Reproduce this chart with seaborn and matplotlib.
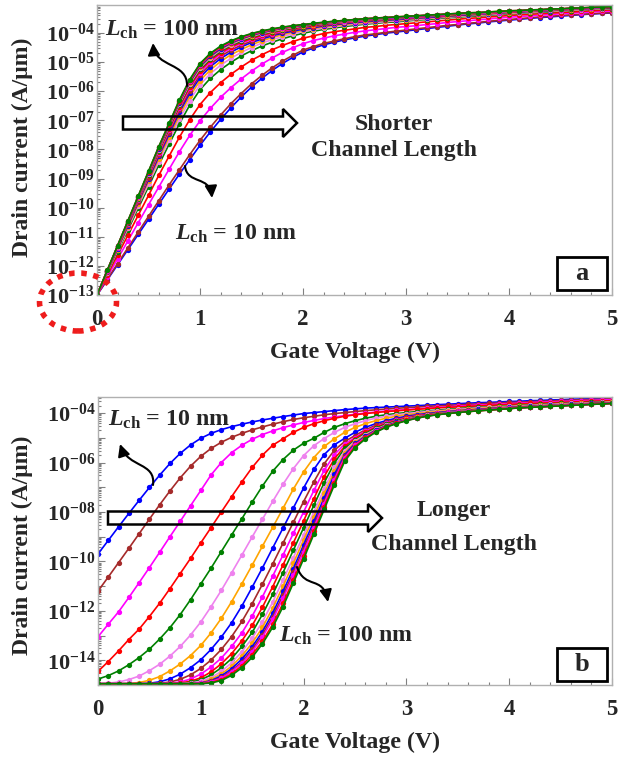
import matplotlib
matplotlib.use("Agg")
import matplotlib.pyplot as plt
import matplotlib.patches as mpatches
from matplotlib.path import Path
from matplotlib.transforms import IdentityTransform
from matplotlib.ticker import FixedLocator, FixedFormatter, LogLocator, NullFormatter, MultipleLocator
import numpy as np
import seaborn as sns

W, H = 632, 757

# gate sweep 0 ... 5 V in 0.1 V steps
gate_v = np.linspace(0.0, 5.0, 51)
lch_nm = [10, 15, 20, 25, 30, 35, 40, 45, 50, 55, 60, 65, 70, 75, 80, 85, 90, 95, 100]
line_colors = ["#0000ff", "#a52a2a", "#ff00ff", "#ff0000", "#008000", "#ee82ee", "#ffa500"]

# ---- panel a: log10 drain current (A/um) ----
a_10 = [-13.0, -12.48, -11.96, -11.44, -10.92, -10.4, -9.88, -9.36, -8.85, -8.35, -7.86,
        -7.4, -6.97, -6.57, -6.2, -5.86, -5.56, -5.29, -5.05, -4.84, -4.65,
        -4.52, -4.41, -4.32, -4.24, -4.17, -4.11, -4.06, -4.01, -3.97, -3.93,
        -3.89, -3.85, -3.81, -3.77, -3.73, -3.69, -3.66, -3.62, -3.59, -3.56,
        -3.53, -3.5, -3.47, -3.45, -3.42, -3.4, -3.37, -3.35, -3.33, -3.31]
a_15 = [-13.0, -12.46, -11.92, -11.38, -10.84, -10.3, -9.76, -9.22, -8.7, -8.18, -7.69,
        -7.24, -6.82, -6.43, -6.08, -5.75, -5.46, -5.2, -4.97, -4.77, -4.59,
        -4.47, -4.36, -4.28, -4.2, -4.13, -4.07, -4.03, -3.98, -3.94, -3.9,
        -3.86, -3.82, -3.78, -3.74, -3.71, -3.67, -3.64, -3.6, -3.57, -3.54,
        -3.51, -3.48, -3.45, -3.43, -3.4, -3.38, -3.36, -3.34, -3.32, -3.3]
a_20 = [-13.0, -12.38, -11.76, -11.14, -10.52, -9.9, -9.29, -8.68, -8.08, -7.52, -7.02,
        -6.59, -6.21, -5.88, -5.58, -5.31, -5.07, -4.86, -4.67, -4.51, -4.37,
        -4.26, -4.18, -4.1, -4.04, -3.98, -3.93, -3.89, -3.85, -3.81, -3.78,
        -3.75, -3.71, -3.68, -3.64, -3.61, -3.58, -3.55, -3.52, -3.49, -3.46,
        -3.44, -3.41, -3.39, -3.37, -3.34, -3.32, -3.3, -3.28, -3.26, -3.25]
a_25 = [-13.0, -12.31, -11.63, -10.95, -10.26, -9.58, -8.89, -8.23, -7.58, -6.98, -6.46,
        -6.05, -5.71, -5.42, -5.17, -4.94, -4.75, -4.58, -4.43, -4.3, -4.18,
        -4.1, -4.02, -3.96, -3.91, -3.86, -3.81, -3.78, -3.74, -3.71, -3.68,
        -3.65, -3.62, -3.59, -3.56, -3.53, -3.5, -3.48, -3.45, -3.43, -3.4,
        -3.38, -3.36, -3.34, -3.32, -3.3, -3.28, -3.26, -3.24, -3.22, -3.21]
a_30 = [-13.0, -12.26, -11.51, -10.77, -10.02, -9.28, -8.53, -7.82, -7.12, -6.48, -5.95,
        -5.56, -5.26, -5.01, -4.79, -4.61, -4.45, -4.32, -4.2, -4.1, -4.01,
        -3.94, -3.88, -3.83, -3.78, -3.74, -3.7, -3.67, -3.64, -3.62, -3.59,
        -3.56, -3.54, -3.51, -3.48, -3.46, -3.43, -3.42, -3.39, -3.37, -3.34,
        -3.33, -3.3, -3.29, -3.27, -3.25, -3.23, -3.21, -3.19, -3.18, -3.17]
a_35 = [-13.0, -12.24, -11.47, -10.71, -9.94, -9.18, -8.42, -7.69, -6.96, -6.32, -5.78,
        -5.4, -5.11, -4.87, -4.67, -4.5, -4.35, -4.23, -4.13, -4.03, -3.95,
        -3.89, -3.83, -3.79, -3.74, -3.7, -3.67, -3.64, -3.61, -3.59, -3.56,
        -3.54, -3.51, -3.48, -3.46, -3.43, -3.41, -3.39, -3.37, -3.35, -3.32,
        -3.31, -3.29, -3.27, -3.25, -3.24, -3.22, -3.2, -3.18, -3.17, -3.16]
a_40 = [-13.0, -12.22, -11.44, -10.66, -9.88, -9.1, -8.32, -7.58, -6.84, -6.18, -5.64,
        -5.27, -4.98, -4.75, -4.57, -4.41, -4.27, -4.16, -4.06, -3.98, -3.91,
        -3.85, -3.79, -3.75, -3.71, -3.67, -3.64, -3.61, -3.58, -3.56, -3.54,
        -3.51, -3.49, -3.46, -3.44, -3.41, -3.39, -3.38, -3.35, -3.33, -3.31,
        -3.29, -3.27, -3.26, -3.24, -3.22, -3.2, -3.19, -3.17, -3.16, -3.14]
a_45 = [-13.0, -12.21, -11.41, -10.62, -9.82, -9.03, -8.24, -7.48, -6.73, -6.07, -5.53,
        -5.16, -4.88, -4.66, -4.48, -4.33, -4.21, -4.1, -4.01, -3.94, -3.87,
        -3.82, -3.76, -3.72, -3.68, -3.65, -3.61, -3.59, -3.56, -3.54, -3.52,
        -3.49, -3.47, -3.45, -3.42, -3.4, -3.38, -3.36, -3.34, -3.32, -3.29,
        -3.28, -3.26, -3.25, -3.23, -3.21, -3.19, -3.18, -3.16, -3.15, -3.14]
a_50 = [-13.0, -12.2, -11.39, -10.59, -9.79, -8.98, -8.18, -7.42, -6.66, -5.99, -5.44,
        -5.08, -4.8, -4.59, -4.42, -4.28, -4.16, -4.06, -3.98, -3.9, -3.84,
        -3.79, -3.74, -3.7, -3.66, -3.63, -3.59, -3.57, -3.55, -3.52, -3.5,
        -3.48, -3.45, -3.43, -3.41, -3.39, -3.36, -3.35, -3.33, -3.31, -3.29,
        -3.27, -3.25, -3.24, -3.22, -3.21, -3.19, -3.17, -3.15, -3.14, -3.13]
a_55 = [-13.0, -12.19, -11.37, -10.56, -9.75, -8.93, -8.12, -7.35, -6.58, -5.9, -5.36,
        -5.0, -4.73, -4.52, -4.36, -4.22, -4.11, -4.02, -3.94, -3.87, -3.81,
        -3.76, -3.72, -3.68, -3.64, -3.61, -3.58, -3.55, -3.53, -3.51, -3.49,
        -3.46, -3.44, -3.42, -3.4, -3.37, -3.35, -3.34, -3.32, -3.3, -3.28,
        -3.26, -3.24, -3.23, -3.21, -3.2, -3.18, -3.17, -3.15, -3.13, -3.12]
a_60 = [-13.0, -12.18, -11.36, -10.54, -9.72, -8.9, -8.08, -7.3, -6.53, -5.85, -5.3,
        -4.94, -4.68, -4.48, -4.32, -4.19, -4.08, -3.99, -3.91, -3.85, -3.8,
        -3.75, -3.7, -3.67, -3.63, -3.6, -3.56, -3.54, -3.52, -3.5, -3.48,
        -3.45, -3.43, -3.41, -3.39, -3.37, -3.34, -3.33, -3.31, -3.29, -3.27,
        -3.26, -3.24, -3.22, -3.2, -3.19, -3.17, -3.16, -3.14, -3.13, -3.12]
a_65 = [-13.0, -12.17, -11.35, -10.52, -9.69, -8.87, -8.04, -7.26, -6.48, -5.79, -5.25,
        -4.89, -4.63, -4.43, -4.28, -4.15, -4.04, -3.96, -3.89, -3.83, -3.78,
        -3.73, -3.69, -3.65, -3.62, -3.58, -3.55, -3.53, -3.51, -3.49, -3.47,
        -3.44, -3.42, -3.4, -3.38, -3.36, -3.34, -3.33, -3.3, -3.28, -3.26,
        -3.25, -3.23, -3.22, -3.2, -3.19, -3.17, -3.16, -3.14, -3.13, -3.12]
a_70 = [-13.0, -12.17, -11.34, -10.5, -9.67, -8.84, -8.01, -7.22, -6.44, -5.75, -5.21,
        -4.85, -4.59, -4.4, -4.24, -4.12, -4.02, -3.94, -3.87, -3.81, -3.76,
        -3.72, -3.67, -3.64, -3.61, -3.58, -3.54, -3.52, -3.5, -3.48, -3.46,
        -3.44, -3.42, -3.39, -3.37, -3.35, -3.33, -3.32, -3.3, -3.28, -3.26,
        -3.25, -3.23, -3.22, -3.2, -3.18, -3.16, -3.15, -3.13, -3.12, -3.11]
a_75 = [-13.0, -12.17, -11.33, -10.5, -9.66, -8.82, -7.99, -7.2, -6.42, -5.72, -5.18,
        -4.82, -4.56, -4.37, -4.22, -4.1, -4.0, -3.92, -3.86, -3.8, -3.75,
        -3.71, -3.67, -3.63, -3.6, -3.57, -3.54, -3.52, -3.49, -3.47, -3.45,
        -3.43, -3.41, -3.39, -3.37, -3.35, -3.33, -3.32, -3.3, -3.28, -3.25,
        -3.24, -3.22, -3.21, -3.19, -3.18, -3.16, -3.15, -3.13, -3.12, -3.11]
a_80 = [-13.0, -12.16, -11.32, -10.49, -9.65, -8.81, -7.97, -7.18, -6.39, -5.7, -5.15,
        -4.8, -4.54, -4.35, -4.2, -4.08, -3.99, -3.91, -3.84, -3.79, -3.74,
        -3.7, -3.66, -3.63, -3.59, -3.56, -3.53, -3.51, -3.49, -3.47, -3.45,
        -3.43, -3.41, -3.39, -3.36, -3.34, -3.32, -3.31, -3.29, -3.27, -3.25,
        -3.24, -3.22, -3.21, -3.19, -3.18, -3.16, -3.15, -3.13, -3.12, -3.11]
a_85 = [-13.0, -12.16, -11.32, -10.48, -9.63, -8.79, -7.95, -7.16, -6.36, -5.67, -5.12,
        -4.77, -4.51, -4.33, -4.18, -4.07, -3.97, -3.9, -3.83, -3.78, -3.73,
        -3.69, -3.65, -3.62, -3.59, -3.56, -3.53, -3.5, -3.48, -3.46, -3.44,
        -3.42, -3.4, -3.38, -3.36, -3.34, -3.32, -3.31, -3.29, -3.27, -3.25,
        -3.24, -3.22, -3.21, -3.19, -3.18, -3.16, -3.15, -3.13, -3.12, -3.11]
a_90 = [-13.0, -12.16, -11.31, -10.47, -9.62, -8.78, -7.93, -7.13, -6.34, -5.64, -5.09,
        -4.74, -4.49, -4.31, -4.16, -4.05, -3.95, -3.88, -3.82, -3.77, -3.72,
        -3.68, -3.64, -3.61, -3.58, -3.55, -3.52, -3.5, -3.48, -3.46, -3.44,
        -3.42, -3.4, -3.38, -3.36, -3.34, -3.32, -3.31, -3.29, -3.27, -3.25,
        -3.24, -3.22, -3.21, -3.19, -3.18, -3.16, -3.15, -3.13, -3.12, -3.11]
a_95 = [-13.0, -12.15, -11.3, -10.46, -9.61, -8.76, -7.91, -7.12, -6.32, -5.62, -5.07,
        -4.72, -4.47, -4.29, -4.14, -4.03, -3.94, -3.87, -3.81, -3.76, -3.72,
        -3.68, -3.64, -3.6, -3.57, -3.54, -3.51, -3.49, -3.47, -3.45, -3.43,
        -3.41, -3.39, -3.37, -3.35, -3.33, -3.31, -3.3, -3.28, -3.26, -3.24,
        -3.23, -3.21, -3.2, -3.18, -3.17, -3.15, -3.14, -3.12, -3.11, -3.1]
a_100 = [-13.0, -12.15, -11.3, -10.45, -9.6, -8.75, -7.9, -7.1, -6.3, -5.6, -5.05,
         -4.7, -4.45, -4.27, -4.13, -4.02, -3.93, -3.86, -3.8, -3.75, -3.71,
         -3.67, -3.63, -3.6, -3.57, -3.54, -3.51, -3.49, -3.47, -3.45, -3.43,
         -3.41, -3.39, -3.37, -3.35, -3.33, -3.31, -3.3, -3.28, -3.26, -3.24,
         -3.23, -3.21, -3.2, -3.18, -3.17, -3.15, -3.14, -3.12, -3.11, -3.1]

# ---- panel b: log10 drain current (A/um) ----
b_10 = [-9.7, -9.15, -8.6, -8.06, -7.53, -7.01, -6.51, -6.04, -5.63, -5.29, -5.02,
        -4.82, -4.67, -4.55, -4.45, -4.36, -4.28, -4.21, -4.14, -4.08, -4.02,
        -3.98, -3.94, -3.9, -3.86, -3.83, -3.8, -3.78, -3.76, -3.74, -3.72,
        -3.7, -3.68, -3.66, -3.64, -3.62, -3.6, -3.58, -3.57, -3.55, -3.53,
        -3.52, -3.5, -3.49, -3.47, -3.46, -3.44, -3.43, -3.42, -3.4, -3.39]
b_15 = [-11.2, -10.63, -10.05, -9.47, -8.88, -8.29, -7.71, -7.15, -6.62, -6.15, -5.75,
        -5.43, -5.18, -4.98, -4.82, -4.68, -4.56, -4.45, -4.35, -4.26, -4.19,
        -4.13, -4.07, -4.02, -3.98, -3.94, -3.9, -3.87, -3.84, -3.81, -3.78,
        -3.76, -3.73, -3.71, -3.69, -3.67, -3.65, -3.63, -3.61, -3.59, -3.57,
        -3.56, -3.54, -3.52, -3.51, -3.49, -3.48, -3.46, -3.45, -3.44, -3.42]
b_20 = [-13.05, -12.54, -12.04, -11.46, -10.86, -10.25, -9.63, -9.0, -8.38, -7.75, -7.13,
        -6.5, -6.0, -5.6, -5.3, -5.06, -4.87, -4.72, -4.59, -4.48, -4.38,
        -4.3, -4.22, -4.16, -4.1, -4.05, -4.0, -3.96, -3.92, -3.89, -3.86,
        -3.83, -3.8, -3.77, -3.75, -3.72, -3.7, -3.68, -3.66, -3.64, -3.62,
        -3.6, -3.58, -3.56, -3.55, -3.53, -3.52, -3.5, -3.49, -3.47, -3.46]
b_25 = [-14.45, -14.05, -13.62, -13.16, -12.74, -12.23, -11.69, -11.1, -10.49, -9.88, -9.25,
        -8.63, -8.0, -7.38, -6.78, -6.2, -5.7, -5.3, -5.04, -4.78, -4.58,
        -4.43, -4.31, -4.21, -4.13, -4.07, -4.02, -3.98, -3.94, -3.91, -3.88,
        -3.85, -3.82, -3.79, -3.77, -3.75, -3.73, -3.71, -3.69, -3.67, -3.65,
        -3.63, -3.61, -3.6, -3.58, -3.57, -3.55, -3.54, -3.52, -3.51, -3.5]
b_30 = [-14.76, -14.62, -14.43, -14.18, -13.89, -13.55, -13.14, -12.68, -12.15, -11.55, -10.91,
        -10.27, -9.6, -8.93, -8.27, -7.6, -6.95, -6.35, -5.88, -5.5, -5.22,
        -5.02, -4.78, -4.58, -4.43, -4.31, -4.21, -4.13, -4.07, -4.02, -3.98,
        -3.94, -3.91, -3.88, -3.85, -3.82, -3.79, -3.77, -3.75, -3.73, -3.71,
        -3.69, -3.67, -3.65, -3.63, -3.61, -3.6, -3.58, -3.57, -3.55, -3.54]
b_35 = [-14.95, -14.93, -14.88, -14.78, -14.64, -14.42, -14.16, -13.83, -13.44, -12.98, -12.45,
        -11.83, -11.17, -10.46, -9.74, -9.01, -8.29, -7.57, -6.88, -6.25, -5.72,
        -5.32, -5.03, -4.78, -4.58, -4.43, -4.31, -4.21, -4.13, -4.07, -4.02,
        -3.98, -3.94, -3.91, -3.88, -3.85, -3.82, -3.79, -3.77, -3.75, -3.73,
        -3.71, -3.69, -3.67, -3.65, -3.63, -3.61, -3.6, -3.58, -3.57, -3.55]
b_40 = [-14.95, -14.95, -14.95, -14.94, -14.9, -14.81, -14.66, -14.43, -14.15, -13.81, -13.4,
        -12.89, -12.3, -11.63, -10.9, -10.15, -9.38, -8.62, -7.85, -7.08, -6.38,
        -5.8, -5.35, -5.04, -4.78, -4.58, -4.43, -4.31, -4.21, -4.13, -4.07,
        -4.02, -3.98, -3.94, -3.91, -3.88, -3.85, -3.82, -3.79, -3.77, -3.75,
        -3.73, -3.71, -3.69, -3.67, -3.65, -3.63, -3.61, -3.6, -3.58, -3.57]
b_45 = [-14.95, -14.95, -14.95, -14.95, -14.95, -14.93, -14.87, -14.75, -14.56, -14.3, -13.98,
        -13.56, -13.06, -12.48, -11.8, -11.04, -10.26, -9.45, -8.65, -7.84, -7.03,
        -6.28, -5.68, -5.28, -5.02, -4.78, -4.58, -4.43, -4.31, -4.21, -4.13,
        -4.07, -4.02, -3.98, -3.94, -3.91, -3.88, -3.85, -3.82, -3.79, -3.77,
        -3.75, -3.73, -3.71, -3.69, -3.67, -3.65, -3.63, -3.61, -3.6, -3.58]
b_50 = [-14.95, -14.95, -14.95, -14.95, -14.95, -14.95, -14.93, -14.88, -14.77, -14.59, -14.33,
        -13.99, -13.56, -13.04, -12.43, -11.71, -10.92, -10.1, -9.26, -8.42, -7.58,
        -6.78, -6.05, -5.5, -5.15, -4.91, -4.68, -4.5, -4.37, -4.26, -4.17,
        -4.1, -4.05, -4.0, -3.96, -3.92, -3.89, -3.86, -3.83, -3.8, -3.78,
        -3.76, -3.74, -3.72, -3.7, -3.68, -3.66, -3.64, -3.62, -3.6, -3.59]
b_55 = [-14.95, -14.95, -14.95, -14.95, -14.95, -14.95, -14.95, -14.93, -14.88, -14.76, -14.56,
        -14.27, -13.91, -13.44, -12.89, -12.21, -11.43, -10.59, -9.74, -8.87, -8.0,
        -7.13, -6.32, -5.68, -5.25, -4.99, -4.74, -4.55, -4.41, -4.29, -4.19,
        -4.12, -4.06, -4.01, -3.97, -3.93, -3.9, -3.87, -3.84, -3.81, -3.79,
        -3.76, -3.74, -3.72, -3.7, -3.68, -3.66, -3.64, -3.63, -3.61, -3.59]
b_60 = [-14.95, -14.95, -14.95, -14.95, -14.95, -14.95, -14.95, -14.95, -14.92, -14.85, -14.71,
        -14.47, -14.14, -13.73, -13.21, -12.59, -11.85, -11.02, -10.14, -9.25, -8.36,
        -7.46, -6.57, -5.85, -5.35, -5.03, -4.78, -4.58, -4.43, -4.31, -4.21,
        -4.13, -4.07, -4.02, -3.98, -3.94, -3.91, -3.88, -3.85, -3.82, -3.79,
        -3.77, -3.75, -3.73, -3.71, -3.69, -3.67, -3.65, -3.63, -3.61, -3.6]
b_65 = [-14.95, -14.95, -14.95, -14.95, -14.95, -14.95, -14.95, -14.95, -14.94, -14.89, -14.79,
        -14.59, -14.3, -13.93, -13.44, -12.87, -12.14, -11.33, -10.45, -9.55, -8.64,
        -7.73, -6.82, -6.02, -5.42, -5.1, -4.83, -4.62, -4.46, -4.33, -4.23,
        -4.15, -4.08, -4.03, -3.98, -3.95, -3.91, -3.88, -3.85, -3.83, -3.8,
        -3.77, -3.75, -3.73, -3.71, -3.69, -3.67, -3.65, -3.63, -3.61, -3.6]
b_70 = [-14.95, -14.95, -14.95, -14.95, -14.95, -14.95, -14.95, -14.95, -14.95, -14.92, -14.85,
        -14.7, -14.45, -14.1, -13.65, -13.11, -12.44, -11.64, -10.76, -9.85, -8.93,
        -8.0, -7.07, -6.2, -5.52, -5.13, -4.87, -4.66, -4.49, -4.36, -4.25,
        -4.16, -4.09, -4.04, -3.99, -3.95, -3.92, -3.89, -3.86, -3.83, -3.8,
        -3.78, -3.76, -3.73, -3.71, -3.69, -3.67, -3.65, -3.63, -3.62, -3.6]
b_75 = [-14.95, -14.95, -14.95, -14.95, -14.95, -14.95, -14.95, -14.95, -14.95, -14.94, -14.9,
        -14.77, -14.55, -14.24, -13.82, -13.3, -12.67, -11.88, -11.0, -10.08, -9.13,
        -8.19, -7.25, -6.35, -5.6, -5.18, -4.91, -4.68, -4.51, -4.37, -4.26,
        -4.17, -4.1, -4.04, -4.0, -3.96, -3.92, -3.89, -3.86, -3.83, -3.81,
        -3.78, -3.76, -3.74, -3.72, -3.7, -3.68, -3.66, -3.64, -3.62, -3.6]
b_80 = [-14.95, -14.95, -14.95, -14.95, -14.95, -14.95, -14.95, -14.95, -14.95, -14.95, -14.92,
        -14.82, -14.63, -14.34, -13.95, -13.45, -12.84, -12.08, -11.21, -10.29, -9.33,
        -8.38, -7.43, -6.48, -5.68, -5.23, -4.94, -4.7, -4.52, -4.38, -4.27,
        -4.18, -4.1, -4.05, -4.0, -3.96, -3.93, -3.89, -3.86, -3.84, -3.81,
        -3.78, -3.76, -3.74, -3.72, -3.7, -3.68, -3.66, -3.64, -3.62, -3.6]
b_85 = [-14.95, -14.95, -14.95, -14.95, -14.95, -14.95, -14.95, -14.95, -14.95, -14.95, -14.92,
        -14.85, -14.69, -14.42, -14.07, -13.56, -12.96, -12.23, -11.37, -10.44, -9.49,
        -8.53, -7.57, -6.61, -5.75, -5.27, -4.97, -4.72, -4.54, -4.4, -4.28,
        -4.19, -4.11, -4.05, -4.01, -3.97, -3.93, -3.9, -3.87, -3.84, -3.81,
        -3.78, -3.76, -3.74, -3.72, -3.7, -3.68, -3.66, -3.64, -3.62, -3.6]
b_90 = [-14.95, -14.95, -14.95, -14.95, -14.95, -14.95, -14.95, -14.95, -14.95, -14.95, -14.93,
        -14.87, -14.73, -14.46, -14.13, -13.65, -13.06, -12.34, -11.49, -10.56, -9.6,
        -8.63, -7.66, -6.69, -5.8, -5.3, -4.99, -4.74, -4.55, -4.41, -4.29,
        -4.19, -4.12, -4.06, -4.01, -3.97, -3.93, -3.9, -3.87, -3.84, -3.81,
        -3.79, -3.76, -3.74, -3.72, -3.7, -3.68, -3.66, -3.64, -3.62, -3.6]
b_95 = [-14.95, -14.95, -14.95, -14.95, -14.95, -14.95, -14.95, -14.95, -14.95, -14.95, -14.95,
        -14.9, -14.78, -14.55, -14.22, -13.77, -13.23, -12.54, -11.7, -10.75, -9.78,
        -8.79, -7.8, -6.81, -5.88, -5.36, -5.02, -4.76, -4.56, -4.42, -4.3,
        -4.2, -4.12, -4.06, -4.02, -3.98, -3.94, -3.91, -3.88, -3.85, -3.82,
        -3.79, -3.77, -3.75, -3.73, -3.71, -3.69, -3.67, -3.65, -3.63, -3.61]
b_100 = [-14.95, -14.95, -14.95, -14.95, -14.95, -14.95, -14.95, -14.95, -14.95, -14.95, -14.95,
         -14.92, -14.82, -14.61, -14.3, -13.88, -13.33, -12.66, -11.83, -10.88, -9.9,
         -8.9, -7.9, -6.9, -5.95, -5.4, -5.05, -4.78, -4.58, -4.43, -4.31,
         -4.21, -4.13, -4.07, -4.02, -3.98, -3.94, -3.91, -3.88, -3.85, -3.82,
         -3.79, -3.77, -3.75, -3.73, -3.71, -3.69, -3.67, -3.65, -3.63, -3.61]

panel_a = [a_10, a_15, a_20, a_25, a_30, a_35, a_40, a_45, a_50, a_55,
           a_60, a_65, a_70, a_75, a_80, a_85, a_90, a_95, a_100]
panel_b = [b_10, b_15, b_20, b_25, b_30, b_35, b_40, b_45, b_50, b_55,
           b_60, b_65, b_70, b_75, b_80, b_85, b_90, b_95, b_100]
for curve in panel_a + panel_b:
    assert len(curve) == len(gate_v)

sns.set_theme(style="ticks")
plt.rcParams["font.family"] = ["Liberation Serif", "DejaVu Serif"]
plt.rcParams["font.weight"] = "bold"
plt.rcParams["mathtext.fontset"] = "custom"
plt.rcParams["mathtext.rm"] = "Liberation Serif:bold"
plt.rcParams["mathtext.bf"] = "Liberation Serif:bold"
plt.rcParams["mathtext.it"] = "Liberation Serif:italic:bold"

fig = plt.figure(figsize=(W / 100, H / 100), dpi=100)
fig.patch.set_facecolor("white")


def px(x, y):
    # image pixel (top-left origin) -> display coords
    return (x, H - y)


def add_axes(left, top, right, bottom):
    return fig.add_axes([left / W, 1 - bottom / H, (right - left) / W, (bottom - top) / H])


def draw_curves(ax, curves):
    for i, logi in enumerate(curves):
        sns.lineplot(x=gate_v, y=np.power(10.0, logi), color=line_colors[i % 7],
                     marker="o", markersize=3.8, markeredgewidth=0, linewidth=1.2,
                     estimator=None, legend=False, ax=ax)


def style_axes(ax, lo, hi, tick_exps, label_exps):
    ax.set_xlim(0, 5)
    ax.set_yscale("log")
    ax.set_ylim(10.0 ** lo, 10.0 ** hi)
    ax.yaxis.set_major_locator(FixedLocator([10.0 ** e for e in tick_exps]))
    ax.yaxis.set_major_formatter(FixedFormatter(
        [r"$\mathbf{10^{-%02d}}$" % -e if e in label_exps else "" for e in tick_exps]))
    ax.yaxis.set_minor_locator(LogLocator(base=10, subs=np.arange(2, 10), numticks=40))
    ax.yaxis.set_minor_formatter(NullFormatter())
    ax.xaxis.set_major_locator(MultipleLocator(1))
    ax.xaxis.set_minor_locator(MultipleLocator(0.2))
    ax.tick_params(which="both", direction="in", color="#808080", width=0.8)
    ax.tick_params(which="major", length=5)
    ax.tick_params(which="minor", length=2.5)
    ax.tick_params(axis="x", labelsize=16.5, pad=10)
    ax.tick_params(axis="y", labelsize=16, pad=2)
    for s in ax.spines.values():
        s.set_color("#b0b0b0")
        s.set_linewidth(1.0)
    ax.set_xlabel("")
    ax.set_ylabel("")


ax_a = add_axes(97, 5, 612, 295)
draw_curves(ax_a, panel_a)
style_axes(ax_a, -13, -3.04, list(range(-13, -3)), list(range(-13, -3)))

ax_b = add_axes(98, 397, 612, 685)
draw_curves(ax_b, panel_b)
style_axes(ax_b, -15, -3.35, list(range(-15, -3)), [-4, -6, -8, -10, -12, -14])

ident = IdentityTransform()

# axis titles
for yc in (147, 545):
    fig.text(22 / W, 1 - yc / H, "Drain current (A/\u03bcm)", rotation=90,
             ha="center", va="center", fontsize=17, fontweight="bold")
for yc in (352, 742):
    fig.text(355 / W, 1 - yc / H, "Gate Voltage (V)", ha="center", va="center",
             fontsize=17.2, fontweight="bold")


def label(x, y, s, size=17.2, ha="left"):
    fig.text(x / W, 1 - y / H, s, ha=ha, va="baseline", fontsize=size, fontweight="bold")


# panel a annotations
label(105, 36, r"$\mathit{L}_{\mathrm{ch}}$ = 100 nm")
label(175, 240, r"$\mathit{L}_{\mathrm{ch}}$ = 10 nm")
label(394, 130, "Shorter", ha="center")
label(394, 156, "Channel Length", ha="center")
# panel b annotations
label(108, 426, r"$\mathit{L}_{\mathrm{ch}}$ = 10 nm")
label(454, 516, "Longer", ha="center")
label(454, 550, "Channel Length", ha="center")
label(279, 642, r"$\mathit{L}_{\mathrm{ch}}$ = 100 nm")

# hollow block arrows
for (x0, x1, yc) in ((123, 297, 123), (108, 382, 518)):
    arr = mpatches.FancyArrow(x0, H - yc, x1 - x0, 0, width=13, head_width=28,
                              head_length=14, length_includes_head=True, fill=False,
                              edgecolor="black", linewidth=1.8, transform=ident)
    fig.add_artist(arr)

# curly pointer arrows
curls = [
    [(187, 86), (188, 62), (155, 68), (153, 43)],
    [(185, 166), (187, 185), (210, 175), (212, 198)],
    [(153, 485), (156, 462), (128, 468), (120, 444)],
    [(297, 567), (305, 590), (323, 575), (328, 602)],
]
for pts in curls:
    verts = [px(*p) for p in pts]
    path = Path(verts, [Path.MOVETO, Path.CURVE4, Path.CURVE4, Path.CURVE4])
    fig.add_artist(mpatches.FancyArrowPatch(path=path, arrowstyle="-|>,head_length=0.6,head_width=0.3",
                                            mutation_scale=12, linewidth=1.5, color="black",
                                            transform=ident))

# panel tags
for (x0, y0, x1, y1, tag) in ((557, 257, 607, 290, "a"), (557, 648, 607, 681, "b")):
    fig.add_artist(mpatches.Rectangle(px(x0, y1), x1 - x0, y1 - y0, fill=False,
                                      edgecolor="black", linewidth=2, transform=ident))
    fig.text((x0 + x1) / 2 / W, 1 - (y0 + y1) / 2 / H, tag, ha="center", va="center",
             fontsize=19, fontweight="bold")

# dotted red circle around the origin of panel a
fig.add_artist(mpatches.Ellipse(px(78, 302), 77, 58, fill=False, edgecolor="#ee1c1c",
                                linestyle=(0, (1, 1.2)), linewidth=4, transform=ident))

fig.savefig("out.png", dpi=100, facecolor="white")
